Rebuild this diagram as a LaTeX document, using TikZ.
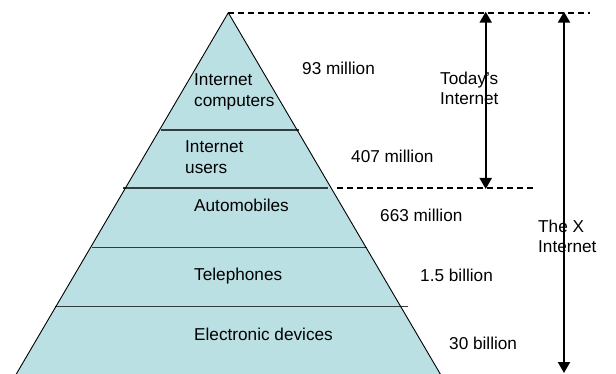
\documentclass[tikz,border=0pt]{standalone}
\usepackage{fontspec}
\setmainfont{Liberation Sans}
\usetikzlibrary{arrows.meta}
\definecolor{pyrfill}{HTML}{BBE0E3}
\definecolor{layerline}{HTML}{333B3E}
\tikzset{
  lbl/.style={font=\fontsize{17.2}{20.8}\selectfont, inner sep=0pt, anchor=base west, align=left},
  layer/.style={draw=layerline, line width=1.5pt},
  guide/.style={draw=black, dashed, dash pattern=on 6pt off 4pt, line width=1.8pt},
  span/.style={draw=black, line width=2.2pt, {Triangle[length=11pt,width=12pt]}-{Triangle[length=11pt,width=12pt]}, shorten <=-1pt, shorten >=-1pt}
}
\begin{document}
\begin{tikzpicture}[x=1pt,y=-1pt]
\useasboundingbox (0,0) rectangle (616,374);
% pyramid
\coordinate (apex) at (228.3,12.7);
\coordinate (bl) at (12.8,380);
\coordinate (br) at (443.8,380);
\fill[pyrfill] (apex) -- (bl) -- (br) -- cycle;
% layer lines
\coordinate (l1a) at (161,130); \coordinate (l1b) at (299,130);
\coordinate (l2a) at (123,188); \coordinate (l2b) at (328,188);
\coordinate (l3a) at (92,247.7); \coordinate (l3b) at (367,247.7);
\coordinate (l4a) at (55,306.7); \coordinate (l4b) at (408,306.7);
\draw[layer] (l1a) -- (l1b);
\draw[layer] (l2a) -- (l2b);
\draw[layer] (l3a) -- (l3b);
\draw[layer] (l4a) -- (l4b);
\draw[black, line width=0.9pt] (bl) -- (apex) -- (br);
% dashed guides
\coordinate (topend) at (590,12.7);
\coordinate (midstart) at (337,188);
\coordinate (midend) at (533,188);
\draw[guide] (apex) -- (topend);
\draw[guide] (midstart) -- (midend);
% arrows
\coordinate (ta) at (485.7,12.7);
\coordinate (tb) at (485.7,188);
\coordinate (xa) at (564,12.7);
\coordinate (xb) at (564,372);
\draw[span] (ta) -- (tb);
\draw[span] (xa) -- (xb);
% layer labels (multi-line nodes are placed by their last baseline)
\node[lbl] (ic) at (194,106.5) {Internet\\computers};
\node[lbl] (iu) at (185,173.5) {Internet\\users};
\node[lbl] (am) at (194,212) {Automobiles};
\node[lbl] (te) at (194,280.5) {Telephones};
\node[lbl] (ed) at (194,340) {Electronic devices};
% counts
\node[lbl] (c1) at (302,75) {93 million};
\node[lbl] (c2) at (351,163) {407 million};
\node[lbl] (c3) at (380,222) {663 million};
\node[lbl] (c4) at (420,281) {1.5 billion};
\node[lbl] (c5) at (449,349) {30 billion};
% span labels
\node[lbl] (ti) at (440,105) {Today’s\\Internet};
\node[lbl] (xi) at (538,253) {The X\\Internet};
\end{tikzpicture}
\end{document}
